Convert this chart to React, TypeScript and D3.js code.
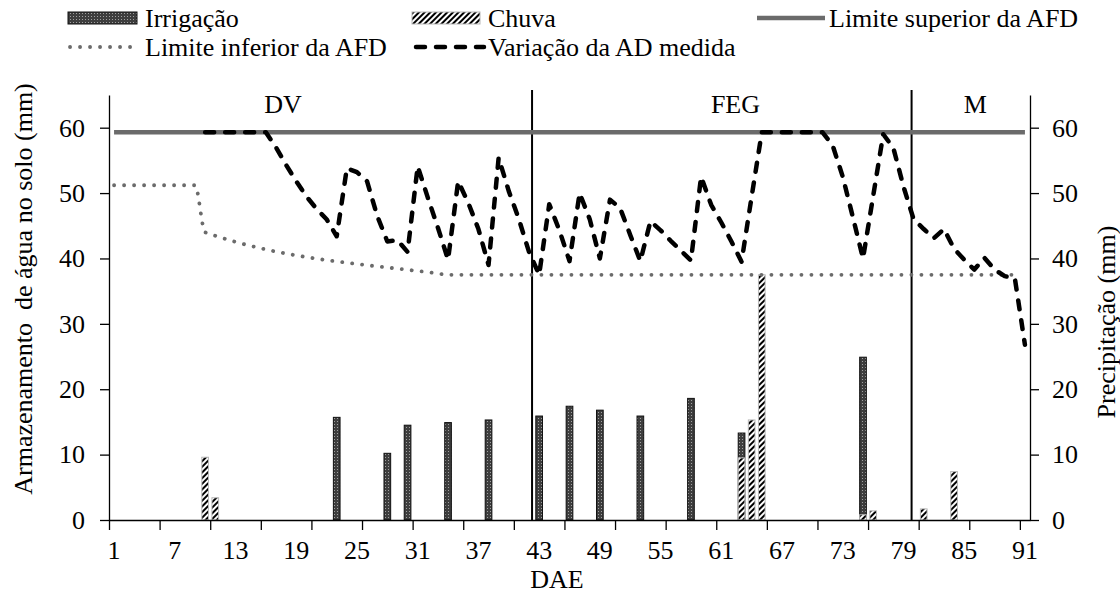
import React, { useRef, useEffect } from 'react';
import * as d3 from 'd3';

// dias após emergência (categorias do eixo x)
const dias = d3.range(1, 92);
const rotulosDias = [1, 7, 13, 19, 25, 31, 37, 43, 49, 55, 61, 67, 73, 79, 85, 91];
const ticksY = [0, 10, 20, 30, 40, 50, 60];

// barras (mm)
const irrigacaoDias = [23, 28, 30, 34, 38, 43, 46, 49, 53, 58, 63, 75];
const irrigacaoMm = [15.7, 10.2, 14.5, 14.9, 15.3, 15.9, 17.4, 16.8, 15.9, 18.6, 13.3, 24.9];
const chuvaDias = [10, 11, 63, 64, 65, 75, 76, 81, 84];
const chuvaMm = [9.6, 3.4, 9.5, 15.3, 37.5, 0.8, 1.4, 1.7, 7.4];

// limites da AFD
const limSupDias = [1, 91];
const limSupMm = [59.3, 59.3];
const limInfDias = [1, 9, 10, 33, 34, 90];
const limInfMm = [51.2, 51.2, 44.0, 37.7, 37.5, 37.5];

// variação da AD medida, do dia 10 ao dia 91
const adInicio = 10;
const adMedida = [
  59.3, 59.3, 59.3, 59.3, 59.3, 59.3, 59.3, 57.0, 54.3, 51.8, // 10-19
  49.5, 47.6, 46.0, 43.4, 53.8, 53.2, 51.8, 46.5, 42.6, 42.8, // 20-29
  41.0, 54.1, 49.3, 44.7, 39.8, 51.8, 48.5, 44.5, 39.0, 55.4, // 30-39
  50.3, 46.0, 41.0, 37.5, 48.3, 44.3, 39.6, 50.0, 46.0, 40.0, // 40-49
  49.0, 47.7, 43.6, 39.6, 45.7, 44.3, 42.7, 41.2, 39.7, 52.5, // 50-59
  48.2, 45.5, 42.6, 39.5, 49.5, 59.3, 59.3, 59.3, 59.3, 59.3, // 60-69
  59.3, 59.3, 57.3, 52.5, 46.3, 40.0, 49.5, 59.0, 56.9, 51.0, // 70-79
  46.0, 44.5, 43.1, 44.5, 41.5, 39.8, 38.3, 40.1, 38.3, 37.3, // 80-89
  37.0, 26.8, // 90-91
];

// fases
const fases = ['DV', 'FEG', 'M'];
const limitesFase = [42.3, 79.8];

const App = () => {
  const ref = useRef<SVGSVGElement>(null);

  useEffect(() => {
    document.body.style.margin = '0';
    const svg = d3.select(ref.current);
    svg.selectAll('*').remove();

    const left = 109, right = 1030, top = 95, bottom = 520;
    const font = "'Liberation Serif', 'DejaVu Serif', 'Noto Serif', Tinos, 'Times New Roman', Times, serif";
    const fs = 26;

    const x = d3.scaleLinear().domain([0.5, 91.5]).range([left, right]);
    const xBand = d3.scaleBand<number>().domain(dias).range([left, right]);
    const y = d3.scaleLinear().domain([0, 65]).range([bottom, top]);
    const barW = xBand.bandwidth() * 0.66;

    // padrões das barras
    const defs = svg.append('defs');
    const pI = defs.append('pattern').attr('id', 'pIrr')
      .attr('patternUnits', 'userSpaceOnUse').attr('width', 3).attr('height', 3);
    pI.append('rect').attr('width', 3).attr('height', 3).attr('fill', '#3e3e3e');
    pI.append('rect').attr('x', 1).attr('y', 1).attr('width', 1).attr('height', 1).attr('fill', '#a0a0a0');
    const pC = defs.append('pattern').attr('id', 'pChuva')
      .attr('patternUnits', 'userSpaceOnUse').attr('width', 4).attr('height', 4)
      .attr('patternTransform', 'rotate(45)');
    pC.append('rect').attr('width', 4).attr('height', 4).attr('fill', '#fff');
    pC.append('rect').attr('width', 2).attr('height', 4).attr('fill', '#000');

    // barras
    svg.append('g').selectAll('rect')
      .data(d3.zip(irrigacaoDias, irrigacaoMm))
      .join('rect')
      .attr('x', d => x(d[0]) - barW / 2)
      .attr('y', d => y(d[1]))
      .attr('width', barW)
      .attr('height', d => bottom - y(d[1]))
      .attr('fill', 'url(#pIrr)')
      .attr('stroke', '#111')
      .attr('stroke-width', 1);

    svg.append('g').selectAll('rect')
      .data(d3.zip(chuvaDias, chuvaMm))
      .join('rect')
      .attr('x', d => x(d[0]) - barW / 2)
      .attr('y', d => y(d[1]))
      .attr('width', barW)
      .attr('height', d => bottom - y(d[1]))
      .attr('fill', 'url(#pChuva)')
      .attr('stroke', '#b8b8b8')
      .attr('stroke-width', 1);

    // linhas das fases
    svg.append('g').selectAll('line')
      .data(limitesFase)
      .join('line')
      .attr('x1', d => x(d)).attr('x2', d => x(d))
      .attr('y1', 90).attr('y2', bottom)
      .attr('stroke', '#000').attr('stroke-width', 2);

    const line = d3.line<[number, number]>().x(d => x(d[0])).y(d => y(d[1]));

    svg.append('path')
      .datum(d3.zip(limSupDias, limSupMm) as [number, number][])
      .attr('d', line)
      .attr('fill', 'none').attr('stroke', '#6b6b6b').attr('stroke-width', 4.5);

    svg.append('path')
      .datum(d3.zip(limInfDias, limInfMm) as [number, number][])
      .attr('d', line.curve(d3.curveMonotoneX))
      .attr('fill', 'none').attr('stroke', '#6b6b6b').attr('stroke-width', 3.8)
      .attr('stroke-dasharray', '0.1 9.9').attr('stroke-linecap', 'round');
    line.curve(d3.curveLinear);

    svg.append('path')
      .datum(adMedida.map((v, i) => [adInicio + i, v] as [number, number]))
      .attr('d', line)
      .attr('fill', 'none').attr('stroke', '#000').attr('stroke-width', 4.5)
      .attr('stroke-dasharray', '9 11').attr('stroke-linecap', 'round')
      .attr('stroke-linejoin', 'round');

    // eixos
    const styleAxis = (g: any) => {
      g.attr('font-family', null).attr('font-size', null);
      g.selectAll('path, line').attr('stroke', '#000').attr('stroke-width', 1.3);
      g.selectAll('text').attr('fill', '#000').style('font-family', font).style('font-size', fs + 'px');
    };

    svg.append('g').attr('transform', `translate(${left},0)`)
      .call(d3.axisLeft(y).tickValues(ticksY).tickSize(9).tickSizeOuter(0).tickPadding(15))
      .call(styleAxis);

    svg.append('g').attr('transform', `translate(${right},0)`)
      .call(d3.axisRight(y).tickValues(ticksY).tickSize(9).tickSizeOuter(0).tickPadding(13))
      .call(styleAxis);

    svg.append('g').attr('transform', `translate(0,${bottom})`)
      .call(d3.axisBottom(x).tickValues(d3.range(0.5, 91, 5)).tickFormat(() => '')
        .tickSize(10).tickSizeOuter(0))
      .call(styleAxis);

    const txt = svg.append('g').style('font-family', font).style('font-size', fs + 'px').attr('fill', '#000');

    txt.append('g').selectAll('text')
      .data(rotulosDias)
      .join('text')
      .attr('x', d => x(d)).attr('y', 559)
      .attr('text-anchor', 'middle')
      .text(d => d);

    txt.append('text')
      .attr('x', 557).attr('y', 588)
      .attr('text-anchor', 'middle')
      .text('DAE');

    txt.append('text')
      .attr('transform', 'translate(31.5,289) rotate(-90)')
      .attr('text-anchor', 'middle')
      .style('white-space', 'pre')
      .text('Armazenamento  de água no solo (mm)');

    txt.append('text')
      .attr('transform', 'translate(1115,322) rotate(-90)')
      .attr('text-anchor', 'middle')
      .text('Precipitação (mm)');

    // rótulos das fases
    const faseX = [17.7, 62.4, 86.1];
    txt.append('g').selectAll('text')
      .data(fases)
      .join('text')
      .attr('x', (d, i) => x(faseX[i])).attr('y', 113)
      .attr('text-anchor', 'middle')
      .text(d => d);

    // legenda
    const leg = svg.append('g').style('font-family', font).style('font-size', fs + 'px');
    leg.append('rect').attr('x', 68).attr('y', 12).attr('width', 69).attr('height', 12)
      .attr('fill', 'url(#pIrr)').attr('stroke', '#111');
    leg.append('text').attr('x', 145).attr('y', 27).text('Irrigação');
    leg.append('rect').attr('x', 412).attr('y', 12).attr('width', 68).attr('height', 12)
      .attr('fill', 'url(#pChuva)').attr('stroke', '#b8b8b8');
    leg.append('text').attr('x', 488).attr('y', 27).text('Chuva');
    leg.append('line').attr('x1', 757).attr('x2', 825).attr('y1', 18).attr('y2', 18)
      .attr('stroke', '#6b6b6b').attr('stroke-width', 4.5);
    leg.append('text').attr('x', 829).attr('y', 27).text('Limite superior da AFD');
    leg.append('line').attr('x1', 70).attr('x2', 137).attr('y1', 47).attr('y2', 47)
      .attr('stroke', '#6b6b6b').attr('stroke-width', 3.8)
      .attr('stroke-dasharray', '0.1 9.9').attr('stroke-linecap', 'round');
    leg.append('text').attr('x', 145).attr('y', 56).text('Limite inferior da AFD');
    leg.append('line').attr('x1', 416).attr('x2', 484).attr('y1', 47).attr('y2', 47)
      .attr('stroke', '#000').attr('stroke-width', 4.5)
      .attr('stroke-dasharray', '9 11').attr('stroke-linecap', 'round');
    leg.append('text').attr('x', 488).attr('y', 56).text('Variação da AD medida');
  }, []);

  return <svg ref={ref} width={1120} height={595} style={{ display: 'block' }} />;
};

export default App;
